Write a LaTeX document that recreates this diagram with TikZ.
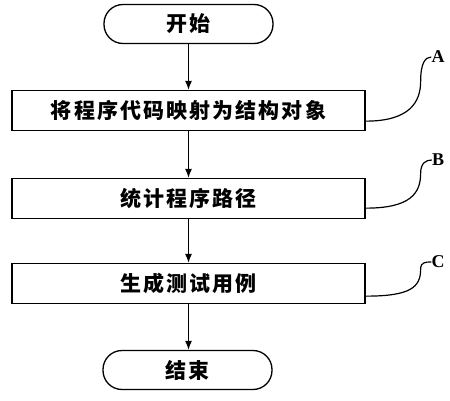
\documentclass[tikz,border=0pt]{standalone}
\usepackage{fontspec}
\setmainfont{Liberation Serif}
\newfontfamily\cjk{Noto Sans CJK SC}[LetterSpace=10]
\usetikzlibrary{arrows.meta}
\begin{document}
\begin{tikzpicture}[x=1pt,y=1pt,
  every node/.style={inner sep=0pt},
  term/.style={draw,line width=1.3pt,rounded corners=19pt,minimum width=169pt,minimum height=39pt,font=\cjk\bfseries\fontsize{21}{21}\selectfont},
  proc/.style={draw,line width=1.3pt,minimum width=353pt,minimum height=40pt,font=\cjk\bfseries\fontsize{21}{21}\selectfont},
  lab/.style={font=\bfseries\fontsize{18}{18}\selectfont},
  flow/.style={line width=1.2pt,-{Latex[length=9pt,width=7pt]}},
  lead/.style={line width=1.2pt}]
\useasboundingbox (0,0) rectangle (450,400);
\node[term] (start) at (188.5,376) {开始};
\node[proc] (p1) at (188.5,289.5) {将程序代码映射为结构对象};
\node[proc] (p2) at (188.5,201.5) {统计程序路径};
\node[proc] (p3) at (188.5,116.5) {生成测试用例};
\node[term] (end) at (187.5,30) {结束};
\node[lab] (A) at (438,343) {A};
\node[lab] (B) at (438,240) {B};
\node[lab] (C) at (438,138) {C};
\draw[flow] (start) -- (p1);
\draw[flow] (p1) -- (p2);
\draw[flow] (p2) -- (p3);
\draw[flow] (p3) -- (end.north -| p3.south);
\draw[lead] ([yshift=10pt]p1.south east) .. controls +(45,0) and +(0,-20) .. ++(55,40) .. controls +(0,18) and +(-6,0) .. (A.west);
\draw[lead] ([yshift=11pt]p2.south east) .. controls +(45,0) and +(0,-20) .. ++(55,35) .. controls +(0,10) and +(-6,0) .. (B.west);
\draw[lead] ([yshift=8pt]p3.south east) .. controls +(45,0) and +(0,-18) .. ++(55,27) .. controls +(0,7) and +(-6,0) .. (C.west);
\end{tikzpicture}
\end{document}
